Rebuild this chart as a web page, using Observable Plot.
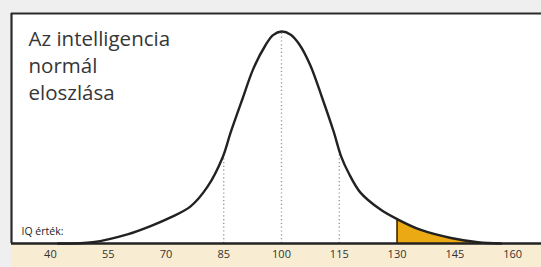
<!DOCTYPE html>
<html>
<head>
<meta charset="utf-8">
<script src="https://cdn.jsdelivr.net/npm/d3@7"></script>
<script src="https://cdn.jsdelivr.net/npm/@observablehq/plot@0.6"></script>
<style>
  html, body { margin: 0; padding: 0; background: #efefef; }
  #chart { position: relative; width: 541px; height: 267px; overflow: hidden; }
  #band { position: absolute; left: 11px; top: 243px; width: 530px; height: 24px; background: #f8edd2; }
  #chart svg { position: absolute; left: 0; top: 0; }
</style>
</head>
<body>
<div id="chart"><div id="band"></div></div>
<script>
// Curve: IQ value and relative height (peak = 100)
const iq      = [42, 51, 60, 66, 71.2, 76.4, 80.8, 84.7, 86.8, 89.9, 92.7, 95.8, 97.8, 100, 102.4, 104.6, 107.5, 110.5, 113.5, 115.5, 117.5, 120.5, 125.7, 130, 136, 144, 151, 157];
const density = [0, 0.6, 4.3, 8.2, 12.3, 17.5, 26.8, 40.6, 52.4, 68.4, 82.5, 93.4, 98.3, 100, 98.5, 94, 84, 69, 53, 41, 33, 24, 16, 11.5, 6.5, 2.6, 0.6, 0];
// Dotted guide lines
const guideIQ = [85, 100, 115];
const guideVal = [42, 100, 44];
// Tick labels
const ticks = [40, 55, 70, 85, 100, 115, 130, 145, 160];
const shadeFrom = 130;
const title = "Az intelligencia\nnormál\neloszlása";
const axisLabel = "IQ érték:";
const xDomain = [29.9, 167.5];
const yDomain = [0, 108.5];

const curve = iq.map((x, i) => ({x, y: density[i]}));
const tail = curve.filter(d => d.x >= shadeFrom);
const guides = guideIQ.map((x, i) => ({x, y: guideVal[i]}));
const shadeStart = curve.find(d => d.x === shadeFrom);

const plot = Plot.plot({
  width: 541,
  height: 267,
  marginLeft: 11,
  marginRight: 0,
  marginTop: 13,
  marginBottom: 24,
  x: {domain: xDomain},
  y: {domain: yDomain, axis: null},
  style: {background: "transparent", fontFamily: "'Open Sans', sans-serif"},
  marks: [
    Plot.frame({fill: "white", stroke: null}),
    Plot.ruleX([xDomain[0]], {stroke: "#2a2a2a", strokeWidth: 2.2}),
    Plot.ruleY([yDomain[1]], {stroke: "#2a2a2a", strokeWidth: 2.2}),
    Plot.ruleX(guides, {x: "x", y1: 0, y2: "y", stroke: "#999", strokeWidth: 1.4, strokeDasharray: "1.2,2.6"}),
    Plot.areaY(tail, {x: "x", y: "y", fill: "#eba914", curve: "catmull-rom"}),
    Plot.ruleX([shadeStart], {x: "x", y1: 0, y2: "y", stroke: "#3a2c08", strokeWidth: 1.6}),
    Plot.lineY(curve, {x: "x", y: "y", stroke: "#222", strokeWidth: 2.4, curve: "catmull-rom"}),
    Plot.ruleY([0], {stroke: "#222", strokeWidth: 2.4}),
    Plot.axisX({ticks, tickSize: 0, tickPadding: 7, fontSize: 11, color: "#333", label: null}),
    Plot.text([title], {frameAnchor: "top-left", dx: 17, dy: 14, lineAnchor: "top", fontSize: 20.5, lineHeight: 1.3, fill: "#363636", fontFamily: "'Open Sans', sans-serif"}),
    Plot.text([axisLabel], {frameAnchor: "bottom-left", dx: 10, dy: -9, lineAnchor: "bottom", fontSize: 10.5, fill: "#222", fontFamily: "'Open Sans', sans-serif", letterSpacing: -0.3})
  ]
});
document.getElementById("chart").appendChild(plot);
</script>
</body>
</html>
